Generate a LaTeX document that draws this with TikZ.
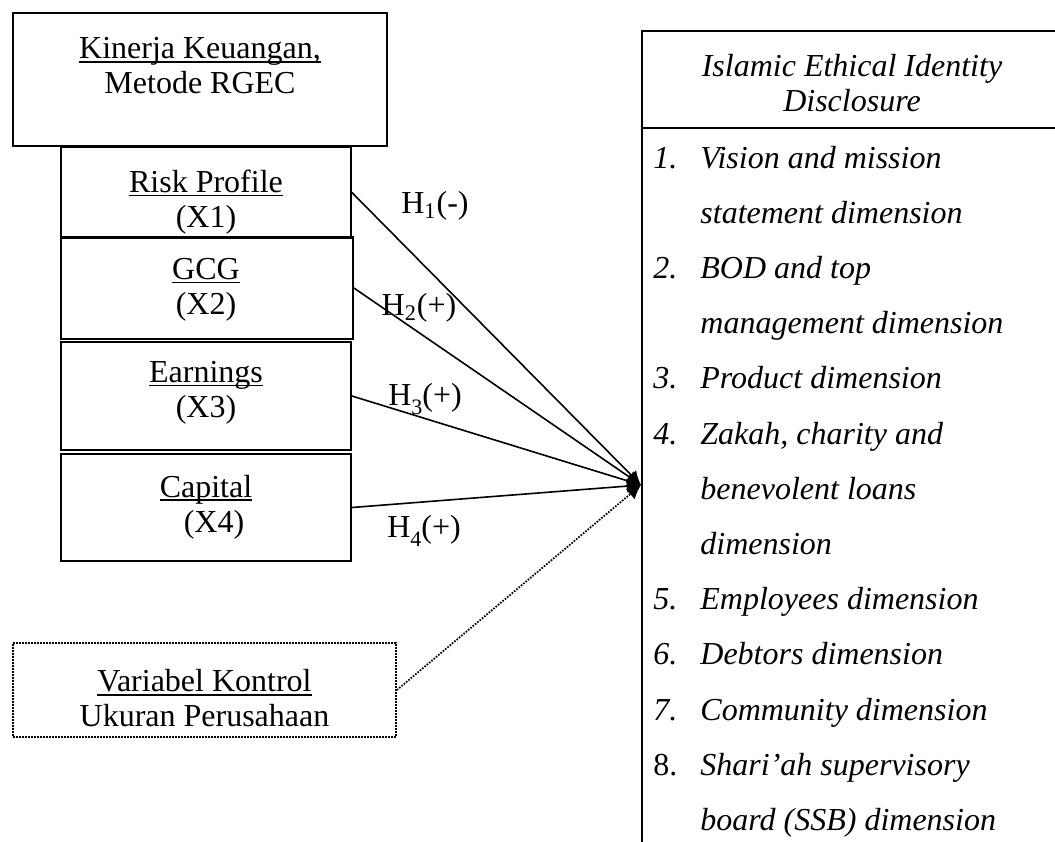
\documentclass[tikz,border=0pt]{standalone}
\usepackage{fontspec}
\setmainfont{Liberation Serif}
\usetikzlibrary{arrows.meta}
\newcommand{\myul}[1]{\setbox0\hbox{#1}\rlap{\rule[-1.9pt]{\wd0}{0.8pt}}\box0}
\newcommand{\lowsub}[1]{\raisebox{-4.5pt}{\fontsize{11}{12}\selectfont #1}}
\begin{document}
\begin{tikzpicture}[x=0.5pt,y=-0.5pt,
  box/.style={draw, line width=0.9pt, inner sep=0pt},
  dotbox/.style={draw, line width=0.9pt, dash pattern=on 0.8pt off 0.7pt, inner sep=0pt},
  lbl/.style={font=\fontsize{16}{17.5}\selectfont, align=center, inner sep=0pt},
  hyp/.style={font=\fontsize{16}{17.5}\selectfont, inner sep=0pt},
  item/.style={font=\fontsize{16}{17.5}\selectfont\itshape, anchor=base west, inner sep=0pt},
  link/.style={line width=0.8pt, -{Latex[length=7pt,width=7pt]}},
  dotlink/.style={line width=0.9pt, dash pattern=on 0.8pt off 0.7pt, -{Latex[length=7pt,width=7pt]}},
]
\clip (0,0) rectangle (1055,841);
\fill[white] (0,0) rectangle (1055,841);

% left boxes
\node[box, minimum width=187pt, minimum height=66.5pt] (kk) at (200,79.5) {};
\node[lbl] (kkt) at (200,66) {\myul{Kinerja Keuangan,}\\Metode RGEC};
\node[box, minimum width=145pt, minimum height=45.5pt] (rp) at (206,192.5) {};
\node[lbl] (rpt) at (206,202) {\myul{Risk Profile}\\(X1)};
\node[box, minimum width=146pt, minimum height=51pt] (gcg) at (207,288) {};
\node[lbl] (gcgt) at (206,290) {\myul{GCG}\\(X2)};
\node[box, minimum width=145pt, minimum height=54pt] (earn) at (206,396) {};
\node[lbl] (earnt) at (206,393) {\myul{Earnings}\\(X3)};
\node[box, minimum width=145pt, minimum height=53.5pt] (cap) at (206,507.5) {};
\node[lbl] (capt) at (206,507) {\myul{Capital}\\\ \ (X4)};
\node[dotbox, minimum width=191.5pt, minimum height=47pt] (var) at (204.5,690) {};
\node[lbl] (vart) at (204.5,698.5) {\myul{Variabel Kontrol}\\Ukuran Perusahaan};

% right box
\node[box, minimum width=210pt, minimum height=48.5pt] (hd) at (852,79.5) {};
\node[lbl, font=\fontsize{16}{17.5}\selectfont\itshape] (hdt) at (852,83) {Islamic Ethical Identity\\Disclosure};
\node[box, minimum width=210pt, minimum height=386pt] (rb) at (852,514) {};

\foreach \n/\t [count=\k from 0] in {1./Vision and mission, /statement dimension, 2./BOD and top, /management dimension, 3./Product dimension, 4./{Zakah, charity and}, /benevolent loans, /dimension, 5./Employees dimension, 6./Debtors dimension, 7./Community dimension} {
  \node[item] (num\k) at (653,168+55.2*\k) {\n};
  \node[item] (it\k) at (700,168+55.2*\k) {\t};
}
\node[item, font=\fontsize{16}{17.5}\selectfont] (num11) at (653,168+55.2*11) {8.};
\node[item] (it11) at (700,168+55.2*11) {Shari’ah supervisory};
\node[item] (it12) at (700,168+55.2*12) {board (SSB) dimension};

% connectors
\coordinate (t) at (641,485);
\draw[link] (rp.east) -- (t);
\draw[link] (gcg.east) -- (t);
\draw[link] (earn.east) -- (t);
\draw[link] (cap.east) -- (t);
\draw[dotlink] (var.east) -- (t);

% hypothesis labels
\node[hyp, anchor=base] (h1) at (435,213) {H\textsubscript{1}(-)};
\node[hyp, anchor=base] (h2) at (419,315) {H\textsubscript{2}(+)};
\node[hyp, anchor=base] (h3) at (425,405) {H\lowsub{3}(+)};
\node[hyp, anchor=base] (h4) at (424,537) {H\lowsub{4}(+)};
\end{tikzpicture}
\end{document}
